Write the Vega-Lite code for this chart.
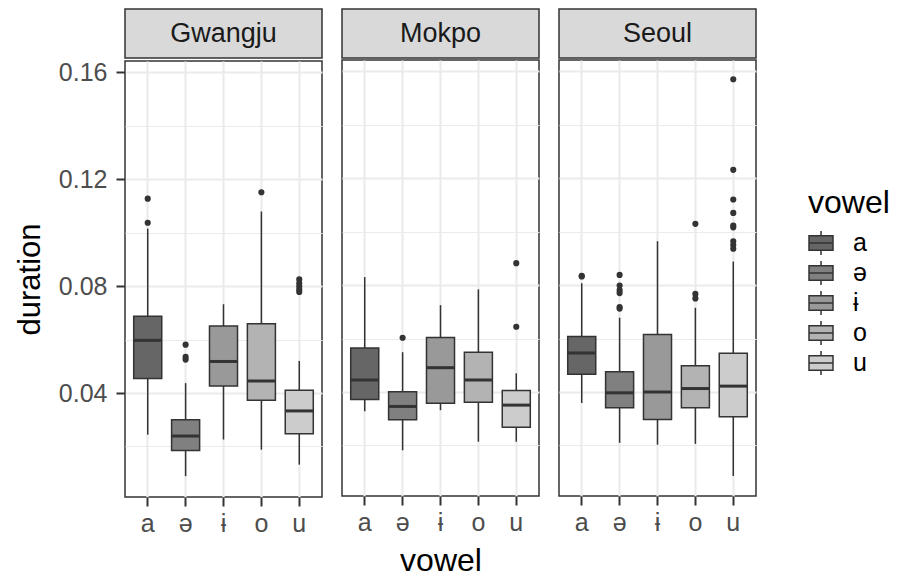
{
  "$schema": "https://vega.github.io/schema/vega-lite/v6.json",
  "padding": {"left": 13, "top": 8, "right": 5, "bottom": 5},
  "background": "white",
  "datasets": {
    "boxes": [
      {"city": "Gwangju", "vowel": "a", "lower": 0.0244, "q1": 0.0454, "median": 0.0597, "q3": 0.0687, "upper": 0.1015},
      {"city": "Gwangju", "vowel": "ə", "lower": 0.0089, "q1": 0.0185, "median": 0.0239, "q3": 0.0300, "upper": 0.0437},
      {"city": "Gwangju", "vowel": "ɨ", "lower": 0.0226, "q1": 0.0426, "median": 0.0518, "q3": 0.0651, "upper": 0.0732},
      {"city": "Gwangju", "vowel": "o", "lower": 0.0188, "q1": 0.0373, "median": 0.0445, "q3": 0.0659, "upper": 0.1079},
      {"city": "Gwangju", "vowel": "u", "lower": 0.0132, "q1": 0.0248, "median": 0.0333, "q3": 0.0410, "upper": 0.0520},
      {"city": "Mokpo", "vowel": "a", "lower": 0.0328, "q1": 0.0372, "median": 0.0445, "q3": 0.0565, "upper": 0.0830},
      {"city": "Mokpo", "vowel": "ə", "lower": 0.0182, "q1": 0.0296, "median": 0.0346, "q3": 0.0401, "upper": 0.0549},
      {"city": "Mokpo", "vowel": "ɨ", "lower": 0.0332, "q1": 0.0358, "median": 0.0491, "q3": 0.0604, "upper": 0.0725},
      {"city": "Mokpo", "vowel": "o", "lower": 0.0214, "q1": 0.0362, "median": 0.0445, "q3": 0.0549, "upper": 0.0784},
      {"city": "Mokpo", "vowel": "u", "lower": 0.0214, "q1": 0.0268, "median": 0.0351, "q3": 0.0406, "upper": 0.0470},
      {"city": "Seoul", "vowel": "a", "lower": 0.0359, "q1": 0.0466, "median": 0.0546, "q3": 0.0608, "upper": 0.0807},
      {"city": "Seoul", "vowel": "ə", "lower": 0.0210, "q1": 0.0341, "median": 0.0397, "q3": 0.0476, "upper": 0.0678},
      {"city": "Seoul", "vowel": "ɨ", "lower": 0.0203, "q1": 0.0297, "median": 0.0400, "q3": 0.0615, "upper": 0.0964},
      {"city": "Seoul", "vowel": "o", "lower": 0.0206, "q1": 0.0341, "median": 0.0413, "q3": 0.0498, "upper": 0.0715},
      {"city": "Seoul", "vowel": "u", "lower": 0.0086, "q1": 0.0307, "median": 0.0422, "q3": 0.0545, "upper": 0.0888}
    ],
    "outliers": [
      {"city": "Gwangju", "vowel": "a", "duration": 0.1127},
      {"city": "Gwangju", "vowel": "a", "duration": 0.1037},
      {"city": "Gwangju", "vowel": "ə", "duration": 0.0581},
      {"city": "Gwangju", "vowel": "ə", "duration": 0.0535},
      {"city": "Gwangju", "vowel": "ə", "duration": 0.0525},
      {"city": "Gwangju", "vowel": "o", "duration": 0.1151},
      {"city": "Gwangju", "vowel": "u", "duration": 0.0825},
      {"city": "Gwangju", "vowel": "u", "duration": 0.0810},
      {"city": "Gwangju", "vowel": "u", "duration": 0.0798},
      {"city": "Gwangju", "vowel": "u", "duration": 0.0787},
      {"city": "Gwangju", "vowel": "u", "duration": 0.0778},
      {"city": "Mokpo", "vowel": "ə", "duration": 0.0603},
      {"city": "Mokpo", "vowel": "u", "duration": 0.0882},
      {"city": "Mokpo", "vowel": "u", "duration": 0.0644},
      {"city": "Seoul", "vowel": "a", "duration": 0.0835},
      {"city": "Seoul", "vowel": "a", "duration": 0.0832},
      {"city": "Seoul", "vowel": "ə", "duration": 0.0838},
      {"city": "Seoul", "vowel": "ə", "duration": 0.0798},
      {"city": "Seoul", "vowel": "ə", "duration": 0.0781},
      {"city": "Seoul", "vowel": "ə", "duration": 0.0770},
      {"city": "Seoul", "vowel": "ə", "duration": 0.0718},
      {"city": "Seoul", "vowel": "ə", "duration": 0.0712},
      {"city": "Seoul", "vowel": "o", "duration": 0.1029},
      {"city": "Seoul", "vowel": "o", "duration": 0.0767},
      {"city": "Seoul", "vowel": "o", "duration": 0.0750},
      {"city": "Seoul", "vowel": "u", "duration": 0.1570},
      {"city": "Seoul", "vowel": "u", "duration": 0.1231},
      {"city": "Seoul", "vowel": "u", "duration": 0.1120},
      {"city": "Seoul", "vowel": "u", "duration": 0.1070},
      {"city": "Seoul", "vowel": "u", "duration": 0.1023},
      {"city": "Seoul", "vowel": "u", "duration": 0.1016},
      {"city": "Seoul", "vowel": "u", "duration": 0.0964},
      {"city": "Seoul", "vowel": "u", "duration": 0.0950},
      {"city": "Seoul", "vowel": "u", "duration": 0.0936}
    ]
  },
  "config": {
    "font": "Liberation Sans",
    "view": {"stroke": "#333333", "strokeWidth": 1.5},
    "concat": {"spacing": 18},
    "axisX": {
      "labelFontSize": 25, "labelColor": "#4D4D4D", "labelAngle": 0, "labelPadding": 5,
      "tickColor": "#333333", "tickSize": 9, "tickWidth": 2, "bandPosition": 0.5,
      "grid": true, "gridColor": "#EBEBEB", "gridWidth": 2.2, "domain": false,
      "titleFontSize": 32, "titleColor": "#000000", "titleFontWeight": "normal", "titlePadding": 10
    },
    "axisY": {
      "labelFontSize": 25, "labelColor": "#4D4D4D", "labelPadding": 9, "labelOverlap": false,
      "tickColor": "#333333", "tickSize": 9, "tickWidth": 2,
      "grid": true, "gridColor": "#EBEBEB", "domain": false,
      "titleFontSize": 31, "titleColor": "#000000", "titleFontWeight": "normal", "titlePadding": 12
    },
    "legend": {
      "orient": "none", "legendX": 683, "legendY": 179,
      "titleFontSize": 32, "titleFontWeight": "normal", "titleColor": "#000000", "titlePadding": 10,
      "labelFontSize": 25, "labelColor": "#000000", "labelOffset": 19,
      "symbolType": "M-1,-0.6H1V0.6H-1Z M0,-1V-0.6 M0,0.6V1 M-1,0H1",
      "symbolSize": 576, "symbolStrokeColor": "#333333", "symbolStrokeWidth": 1.5, "symbolOpacity": 1,
      "rowPadding": 0
    }
  },
  "hconcat": [
    {
      "spacing": 0,
      "vconcat": [
        {
          "width": 197, "height": 49,
          "view": {"fill": "#D9D9D9", "stroke": "#333333", "strokeWidth": 1.5},
          "data": {"values": [{"city": "Gwangju"}]},
          "mark": {"type": "text", "fontSize": 27, "color": "#1A1A1A"},
          "encoding": {"text": {"field": "city", "type": "nominal"}}
        },
        {
          "width": 197, "height": 436,
          "encoding": {
            "x": {"field": "vowel", "type": "nominal", "title": null,
                  "scale": {"type": "band", "domain": ["a", "ə", "ɨ", "o", "u"], "paddingInner": 0.26, "paddingOuter": 0.23}},
            "y": {"type": "quantitative", "scale": {"domain": [0.0011, 0.1642], "nice": false, "zero": false}}
          },
          "layer": [
            {
              "data": {"name": "boxes"},
              "transform": [{"filter": "datum.city === 'Gwangju'"}],
              "mark": {"type": "rule", "color": "#333333", "strokeWidth": 1.5},
              "encoding": {
                "y": {"field": "lower", "type": "quantitative", "title": "duration",
                      "axis": {"values": [0.02, 0.04, 0.06, 0.08, 0.1, 0.12, 0.14, 0.16],
                               "labelExpr": "abs(datum.value*25 - round(datum.value*25)) < 0.001 ? format(datum.value, '.2f') : ''",
                               "tickOpacity": {"condition": {"test": "abs(datum.value*25 - round(datum.value*25)) < 0.001", "value": 1}, "value": 0},
                               "gridWidth": {"condition": {"test": "abs(datum.value*25 - round(datum.value*25)) < 0.001", "value": 2.2}, "value": 1.1}}},
                "y2": {"field": "upper"}
              }
            },
            {
              "data": {"name": "boxes"},
              "transform": [{"filter": "datum.city === 'Gwangju'"}],
              "mark": {"type": "bar", "stroke": "#333333", "strokeWidth": 1.5},
              "encoding": {
                "y": {"field": "q1", "type": "quantitative"},
                "y2": {"field": "q3"},
                "fill": {"field": "vowel", "type": "nominal", "title": "vowel",
                         "scale": {"domain": ["a", "ə", "ɨ", "o", "u"], "range": ["#666666", "#808080", "#999999", "#B3B3B3", "#CCCCCC"]}}
              }
            },
            {
              "data": {"name": "boxes"},
              "transform": [{"filter": "datum.city === 'Gwangju'"}],
              "mark": {"type": "tick", "color": "#333333", "size": 28, "thickness": 3, "opacity": 1},
              "encoding": {"y": {"field": "median", "type": "quantitative"}}
            },
            {
              "data": {"name": "outliers"},
              "transform": [{"filter": "datum.city === 'Gwangju'"}],
              "mark": {"type": "circle", "color": "#333333", "size": 38, "opacity": 1},
              "encoding": {"y": {"field": "duration", "type": "quantitative"}}
            }
          ]
        }
      ]
    },
    {
      "spacing": 0,
      "vconcat": [
        {
          "width": 197, "height": 49,
          "view": {"fill": "#D9D9D9", "stroke": "#333333", "strokeWidth": 1.5},
          "data": {"values": [{"city": "Mokpo"}]},
          "mark": {"type": "text", "fontSize": 27, "color": "#1A1A1A"},
          "encoding": {"text": {"field": "city", "type": "nominal"}}
        },
        {
          "width": 197, "height": 436,
          "encoding": {
            "x": {"field": "vowel", "type": "nominal", "title": "vowel",
                  "scale": {"type": "band", "domain": ["a", "ə", "ɨ", "o", "u"], "paddingInner": 0.26, "paddingOuter": 0.23}},
            "y": {"type": "quantitative", "scale": {"domain": [0.0011, 0.1642], "nice": false, "zero": false}}
          },
          "layer": [
            {
              "data": {"name": "boxes"},
              "transform": [{"filter": "datum.city === 'Mokpo'"}],
              "mark": {"type": "rule", "color": "#333333", "strokeWidth": 1.5},
              "encoding": {
                "y": {"field": "lower", "type": "quantitative", "title": null,
                      "axis": {"values": [0.02, 0.04, 0.06, 0.08, 0.1, 0.12, 0.14, 0.16],
                               "labels": false, "ticks": false,
                               "gridWidth": {"condition": {"test": "abs(datum.value*25 - round(datum.value*25)) < 0.001", "value": 2.2}, "value": 1.1}}},
                "y2": {"field": "upper"}
              }
            },
            {
              "data": {"name": "boxes"},
              "transform": [{"filter": "datum.city === 'Mokpo'"}],
              "mark": {"type": "bar", "stroke": "#333333", "strokeWidth": 1.5},
              "encoding": {
                "y": {"field": "q1", "type": "quantitative"},
                "y2": {"field": "q3"},
                "fill": {"field": "vowel", "type": "nominal", "title": "vowel",
                         "scale": {"domain": ["a", "ə", "ɨ", "o", "u"], "range": ["#666666", "#808080", "#999999", "#B3B3B3", "#CCCCCC"]}}
              }
            },
            {
              "data": {"name": "boxes"},
              "transform": [{"filter": "datum.city === 'Mokpo'"}],
              "mark": {"type": "tick", "color": "#333333", "size": 28, "thickness": 3, "opacity": 1},
              "encoding": {"y": {"field": "median", "type": "quantitative"}}
            },
            {
              "data": {"name": "outliers"},
              "transform": [{"filter": "datum.city === 'Mokpo'"}],
              "mark": {"type": "circle", "color": "#333333", "size": 38, "opacity": 1},
              "encoding": {"y": {"field": "duration", "type": "quantitative"}}
            }
          ]
        }
      ]
    },
    {
      "spacing": 0,
      "vconcat": [
        {
          "width": 197, "height": 49,
          "view": {"fill": "#D9D9D9", "stroke": "#333333", "strokeWidth": 1.5},
          "data": {"values": [{"city": "Seoul"}]},
          "mark": {"type": "text", "fontSize": 27, "color": "#1A1A1A"},
          "encoding": {"text": {"field": "city", "type": "nominal"}}
        },
        {
          "width": 197, "height": 436,
          "encoding": {
            "x": {"field": "vowel", "type": "nominal", "title": null,
                  "scale": {"type": "band", "domain": ["a", "ə", "ɨ", "o", "u"], "paddingInner": 0.26, "paddingOuter": 0.23}},
            "y": {"type": "quantitative", "scale": {"domain": [0.0011, 0.1642], "nice": false, "zero": false}}
          },
          "layer": [
            {
              "data": {"name": "boxes"},
              "transform": [{"filter": "datum.city === 'Seoul'"}],
              "mark": {"type": "rule", "color": "#333333", "strokeWidth": 1.5},
              "encoding": {
                "y": {"field": "lower", "type": "quantitative", "title": null,
                      "axis": {"values": [0.02, 0.04, 0.06, 0.08, 0.1, 0.12, 0.14, 0.16],
                               "labels": false, "ticks": false,
                               "gridWidth": {"condition": {"test": "abs(datum.value*25 - round(datum.value*25)) < 0.001", "value": 2.2}, "value": 1.1}}},
                "y2": {"field": "upper"}
              }
            },
            {
              "data": {"name": "boxes"},
              "transform": [{"filter": "datum.city === 'Seoul'"}],
              "mark": {"type": "bar", "stroke": "#333333", "strokeWidth": 1.5},
              "encoding": {
                "y": {"field": "q1", "type": "quantitative"},
                "y2": {"field": "q3"},
                "fill": {"field": "vowel", "type": "nominal", "title": "vowel",
                         "scale": {"domain": ["a", "ə", "ɨ", "o", "u"], "range": ["#666666", "#808080", "#999999", "#B3B3B3", "#CCCCCC"]}}
              }
            },
            {
              "data": {"name": "boxes"},
              "transform": [{"filter": "datum.city === 'Seoul'"}],
              "mark": {"type": "tick", "color": "#333333", "size": 28, "thickness": 3, "opacity": 1},
              "encoding": {"y": {"field": "median", "type": "quantitative"}}
            },
            {
              "data": {"name": "outliers"},
              "transform": [{"filter": "datum.city === 'Seoul'"}],
              "mark": {"type": "circle", "color": "#333333", "size": 38, "opacity": 1},
              "encoding": {"y": {"field": "duration", "type": "quantitative"}}
            }
          ]
        }
      ]
    }
  ]
}
